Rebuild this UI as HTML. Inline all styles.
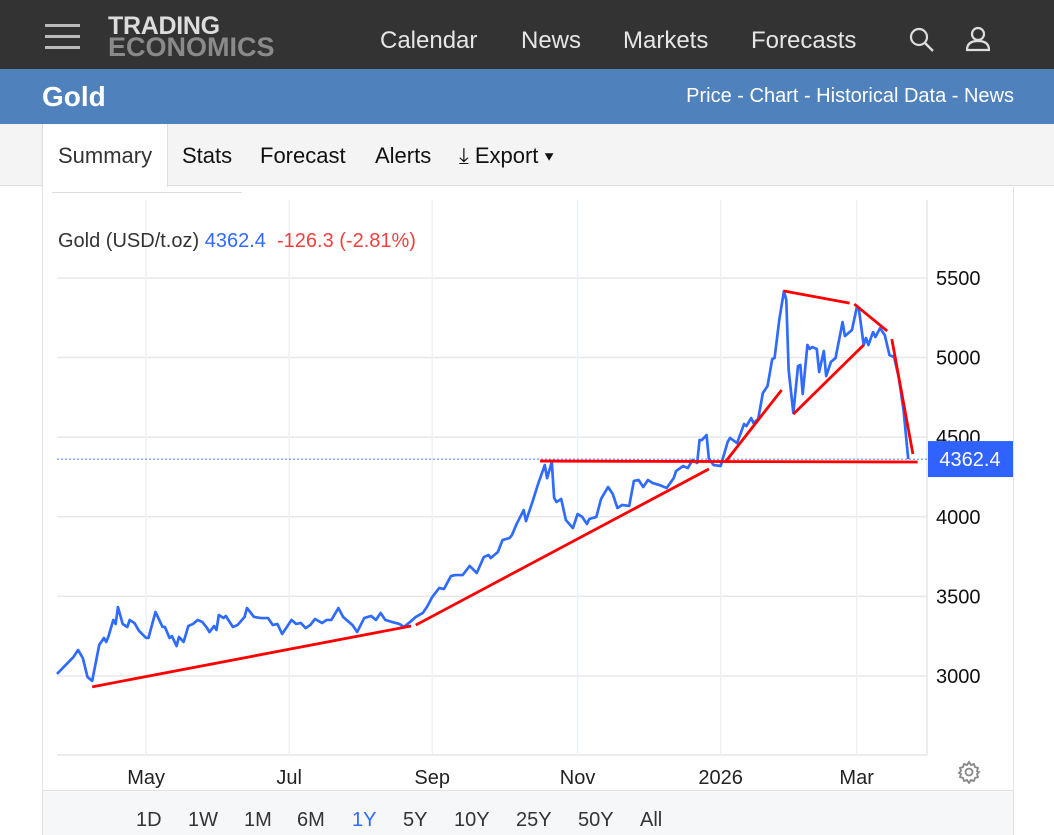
<!DOCTYPE html>
<html><head><meta charset="utf-8"><style>
*{margin:0;padding:0;box-sizing:border-box}
body{width:1054px;height:835px;overflow:hidden;background:#fff;font-family:"Liberation Sans",Arial,sans-serif;position:relative}
.abs{position:absolute}
</style></head><body>
<div class="abs" style="left:0;top:0;width:1054px;height:69px;background:#333"></div>
<div class="abs" style="left:45px;top:24px;width:35px;height:24px">
 <div style="height:3px;background:#bbb;margin-bottom:8px"></div><div style="height:3px;background:#bbb;margin-bottom:8px"></div><div style="height:3px;background:#bbb"></div></div>
<div class="abs" style="left:108px;top:16px;font-weight:bold;line-height:21px;font-size:25px;letter-spacing:-0.3px">
 <div style="color:#ddd">TRADING</div><div style="color:#8a8a8a;font-size:27px;letter-spacing:0">ECONOMICS</div></div>
<div class="abs" style="left:380px;top:27px;color:#e6e6e6;font-size:24px">Calendar</div>
<div class="abs" style="left:521px;top:27px;color:#e6e6e6;font-size:24px">News</div>
<div class="abs" style="left:623px;top:27px;color:#e6e6e6;font-size:24px">Markets</div>
<div class="abs" style="left:751px;top:27px;color:#e6e6e6;font-size:24px">Forecasts</div>
<svg class="abs" style="left:908px;top:26px" width="28" height="28"><circle cx="11" cy="11" r="8" fill="none" stroke="#ddd" stroke-width="2.2"/><line x1="17" y1="17" x2="25" y2="25" stroke="#ddd" stroke-width="2.4"/></svg>
<svg class="abs" style="left:965px;top:25px" width="28" height="28"><circle cx="13" cy="9" r="6" fill="none" stroke="#ddd" stroke-width="2.2"/><path d="M2 25 Q2 16 13 16 Q24 16 24 25 Z" fill="none" stroke="#ddd" stroke-width="2.2"/></svg>
<div class="abs" style="left:0;top:69px;width:1054px;height:55px;background:#4f81bd"></div>
<div class="abs" style="left:42px;top:81px;color:#fff;font-size:28px;font-weight:bold">Gold</div>
<div class="abs" style="right:40px;top:85px;color:#fff;font-size:20px">Price - Chart - Historical Data - News</div>
<div class="abs" style="left:0;top:124px;width:1054px;height:62px;background:#f4f4f4;border-bottom:1px solid #ddd"></div>
<div class="abs" style="left:42px;top:124px;width:126px;height:63px;background:#fff;border-left:1px solid #ddd;border-right:1px solid #ddd;color:#333;font-size:22px;padding:19px 0 0 15px">Summary</div>
<div class="abs" style="left:182px;top:143px;font-size:22px;color:#111">Stats</div>
<div class="abs" style="left:260px;top:143px;font-size:22px;color:#111">Forecast</div>
<div class="abs" style="left:375px;top:143px;font-size:22px;color:#111">Alerts</div>
<div class="abs" style="left:459px;top:143px;font-size:22px;color:#111">⤓ Export ▾</div>
<div class="abs" style="left:42px;top:187px;width:972px;height:648px;border-left:1px solid #e3e3e3;border-right:1px solid #e3e3e3"></div>
<div class="abs" style="left:52px;top:192px;width:190px;height:1px;background:#ddd"></div>
<div class="abs" style="left:43px;top:790px;width:970px;height:45px;background:#f6f7f9;border-top:1px solid #e3e3e3"></div>
<svg id="chart" class="abs" style="left:0;top:0" width="1054" height="835"></svg>
<div class="abs" style="left:58px;top:230px;font-size:20px;color:#333">Gold (USD/t.oz) <span style="color:#2f6bff">4362.4</span>&nbsp; <span style="color:#f04040">-126.3 (-2.81%)</span></div>
<svg class="abs" style="left:957px;top:760px" width="24" height="24" viewBox="0 0 24 24"><path d="M12 2l2 3 3-1 1 3 3 1-1 3 2 1-2 2 1 3-3 1-1 3-3-1-2 3-2-3-3 1-1-3-3-1 1-3-2-1 2-2-1-3 3-1 1-3 3 1z" fill="none" stroke="#888" stroke-width="1.8"/><circle cx="12" cy="12" r="3.5" fill="none" stroke="#888" stroke-width="1.8"/></svg>
<div class="abs" style="left:136px;top:809px;font-size:20px;color:#333">
<span class="abs" style="left:0">1D</span><span class="abs" style="left:52px">1W</span><span class="abs" style="left:108px">1M</span><span class="abs" style="left:161px">6M</span><span class="abs" style="left:216px;color:#2f6bff">1Y</span><span class="abs" style="left:267px">5Y</span><span class="abs" style="left:318px">10Y</span><span class="abs" style="left:380px">25Y</span><span class="abs" style="left:442px">50Y</span><span class="abs" style="left:504px">All</span></div>
<script>
// days since 2025-03-24
const days=[0,7,9,11,13,15,18,20,21,22,24,25,26,28,30,31,33,35,38,39,42,43,45,46,48,49,51,52,54,56,58,60,62,64,65,67,68,69,71,72,75,77,80,81,84,87,90,92,94,96,100,102,104,106,108,110,113,115,117,120,122,126,128,131,134,136,138,140,143,146,148,151,153,156,158,160,163,165,168,170,173,176,179,182,184,185,188,190,193,194,196,199,200,203,205,208,209,211,212,213,215,217,220,222,224,226,227,230,232,235,237,239,241,244,246,248,250,252,254,257,260,263,264,267,269,271,273,274,275,277,278,280,283,286,287,290,293,294,296,297,299,301,303,305,306,308,310,311,312,314,316,317,318,320,321,322,324,325,327,328,330,332,335,336,339,341,342,344,345,346,348,349,351,353,355,357,359,361,363];
const prices=[3013,3119,3163,3113,2994,2969,3195,3239,3214,3251,3352,3327,3433,3327,3308,3352,3333,3283,3239,3239,3402,3371,3308,3308,3239,3251,3188,3245,3214,3314,3327,3352,3339,3301,3276,3314,3289,3383,3364,3377,3308,3320,3371,3427,3371,3364,3364,3320,3327,3264,3352,3327,3333,3301,3320,3358,3333,3352,3352,3427,3371,3320,3276,3364,3377,3352,3396,3352,3339,3327,3308,3345,3371,3396,3440,3496,3553,3546,3628,3634,3634,3691,3647,3747,3760,3741,3779,3854,3867,3885,3955,4042,3973,4105,4199,4325,4243,4344,4118,4093,4112,3980,3929,4017,3999,3955,3986,3999,4112,4187,4143,4055,4074,4068,4225,4231,4187,4231,4212,4199,4181,4243,4287,4319,4306,4356,4338,4482,4482,4513,4363,4325,4319,4470,4495,4463,4583,4570,4620,4589,4614,4777,4821,4991,4997,5236,5418,5361,4922,4652,4947,4953,4771,5079,5054,5066,5054,4909,5041,4884,4972,4997,5223,5135,5173,5311,5299,5079,5123,5079,5160,5129,5185,5141,5016,5003,4871,4670,4362.4];
const trendStartDay=[15,153,206,285,314,310,340,356];
const trendStartVal=[2932,3320,4350,4344,4645,5418,5336,5116];
const trendEndDay=[151,278,367,309,344,338,354,365];
const trendEndVal=[3314,4300,4344,4796,5079,5342,5167,4394];
const yTicks=[3000,3500,4000,4500,5000,5500];
const xTickLabels=["May","Jul","Sep","Nov","2026","Mar"];
const xTickDays=[38,99,160,222,283,341];
const lastPrice=4362.4;
const X=d=>57+d*2.345, Y=v=>676-(v-3000)*0.15922;
const svg=document.getElementById('chart'),NS='http://www.w3.org/2000/svg';
function mk(t,a,p){const e=document.createElementNS(NS,t);for(const k in a)e.setAttribute(k,a[k]);(p||svg).appendChild(e);return e;}
const fr=mk('line',{x1:927,y1:200,x2:927,y2:755,stroke:'#e6e6e6','stroke-width':1.5});

const fb=mk('line',{x1:57,y1:755,x2:927,y2:755,stroke:'#e6e6e6','stroke-width':1.5});

yTicks.forEach(v=>{
 const g=mk('line',{x1:57,x2:927,y1:Y(v),y2:Y(v),stroke:'#e8e8e8','stroke-width':1.5});
 
 const t=mk('text',{x:936,y:Y(v)+7,'font-size':20,fill:'#111'});t.textContent=v;
 
});
xTickDays.forEach((d,i)=>{
 const g=mk('line',{x1:X(d),x2:X(d),y1:200,y2:755,stroke:'#eef1f4','stroke-width':1.5});
 
 const t=mk('text',{x:X(d),y:784,'font-size':20,fill:'#222','text-anchor':'middle'});t.textContent=xTickLabels[i];
 
});
const dl=mk('line',{x1:57,x2:927,y1:Y(lastPrice),y2:Y(lastPrice),stroke:'#4a7dff','stroke-width':1,'stroke-dasharray':'2,2'});

const pl=mk('polyline',{points:days.map((d,i)=>X(d)+','+Y(prices[i])).join(' '),fill:'none',stroke:'#2f6bff','stroke-width':2.7,'stroke-linejoin':'round'});

trendStartDay.forEach((d,i)=>{
 const l=mk('line',{x1:X(d),y1:Y(trendStartVal[i]),x2:X(trendEndDay[i]),y2:Y(trendEndVal[i]),stroke:'#ff0000','stroke-width':2.8});
 
});
const bx=mk('rect',{x:928,y:Y(lastPrice)-18,width:85,height:36,fill:'#2f62ff'});

const bt=mk('text',{x:970,y:Y(lastPrice)+7,'font-size':20,fill:'#fff','text-anchor':'middle'});bt.textContent=lastPrice.toFixed(1);

</script>
</body></html>
